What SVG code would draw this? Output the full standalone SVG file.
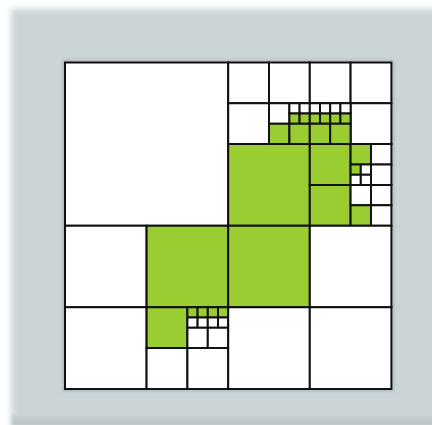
<svg xmlns="http://www.w3.org/2000/svg" width="432" height="425" viewBox="0 0 432 425">
  <style>
    .c { stroke: #111; stroke-width: 2; vector-effect: non-scaling-stroke; }
    .w { fill: #ffffff; }
    .g { fill: #9acd32; }
  </style>
  <defs>
    <filter id="soft" x="-5%" y="-5%" width="110%" height="110%">
      <feGaussianBlur stdDeviation="3"/>
    </filter>
    <filter id="shadow" x="-10%" y="-10%" width="120%" height="120%">
      <feGaussianBlur stdDeviation="1.5"/>
    </filter>
    <linearGradient id="bottomShade" x1="0" y1="0" x2="0" y2="1">
      <stop offset="0" stop-color="#cbd4d7"/>
      <stop offset="1" stop-color="#b8c1c4"/>
    </linearGradient>
  </defs>

  <!-- background panel -->
  <rect x="0" y="0" width="432" height="425" fill="#ffffff"/>
  <rect x="11" y="9" width="440" height="440" fill="#cbd4d7" filter="url(#soft)"/>
  <rect x="12" y="414" width="430" height="11" fill="url(#bottomShade)" filter="url(#shadow)"/>

  <!-- soft shadow around the grid -->
  <rect x="64" y="61.5" width="328.4" height="328.4" fill="none" stroke="#8f989b" stroke-width="3" opacity="0.5" filter="url(#shadow)"/>

  <g id="quadtree" transform="translate(65 62.5) scale(40.8)">
    <!-- top-left quadrant -->
    <g id="q-tl">
      <rect class="c w" x="0" y="0" width="4" height="4"/>
    </g>
    <!-- top-right quadrant -->
    <g id="q-tr">
      <rect class="c w" x="4" y="0" width="1" height="1"/>
      <rect class="c w" x="5" y="0" width="1" height="1"/>
      <rect class="c w" x="4" y="1" width="1" height="1"/>
      <rect class="c w" x="5" y="1" width="0.5" height="0.5"/>
      <rect class="c w" x="5.5" y="1" width="0.25" height="0.25"/>
      <rect class="c w" x="5.75" y="1" width="0.25" height="0.25"/>
      <rect class="c g" x="5.5" y="1.25" width="0.25" height="0.25"/>
      <rect class="c g" x="5.75" y="1.25" width="0.25" height="0.25"/>
      <rect class="c g" x="5" y="1.5" width="0.5" height="0.5"/>
      <rect class="c g" x="5.5" y="1.5" width="0.5" height="0.5"/>

      <rect class="c w" x="6" y="0" width="1" height="1"/>
      <rect class="c w" x="7" y="0" width="1" height="1"/>
      <rect class="c w" x="7" y="1" width="1" height="1"/>
      <rect class="c w" x="6" y="1" width="0.25" height="0.25"/>
      <rect class="c w" x="6.25" y="1" width="0.25" height="0.25"/>
      <rect class="c w" x="6.5" y="1" width="0.25" height="0.25"/>
      <rect class="c w" x="6.75" y="1" width="0.25" height="0.25"/>
      <rect class="c g" x="6" y="1.25" width="0.25" height="0.25"/>
      <rect class="c g" x="6.25" y="1.25" width="0.25" height="0.25"/>
      <rect class="c g" x="6.5" y="1.25" width="0.25" height="0.25"/>
      <rect class="c g" x="6.75" y="1.25" width="0.25" height="0.25"/>
      <rect class="c g" x="6" y="1.5" width="0.5" height="0.5"/>
      <rect class="c g" x="6.5" y="1.5" width="0.5" height="0.5"/>

      <rect class="c g" x="4" y="2" width="2" height="2"/>

      <rect class="c g" x="6" y="2" width="1" height="1"/>
      <rect class="c g" x="6" y="3" width="1" height="1"/>
      <rect class="c g" x="7" y="2" width="0.5" height="0.5"/>
      <rect class="c w" x="7.5" y="2" width="0.5" height="0.5"/>
      <rect class="c g" x="7" y="2.5" width="0.25" height="0.25"/>
      <rect class="c w" x="7.25" y="2.5" width="0.25" height="0.25"/>
      <rect class="c w" x="7" y="2.75" width="0.25" height="0.25"/>
      <rect class="c w" x="7.25" y="2.75" width="0.25" height="0.25"/>
      <rect class="c w" x="7.5" y="2.5" width="0.5" height="0.5"/>
      <rect class="c w" x="7" y="3" width="0.5" height="0.5"/>
      <rect class="c w" x="7.5" y="3" width="0.5" height="0.5"/>
      <rect class="c g" x="7" y="3.5" width="0.5" height="0.5"/>
      <rect class="c w" x="7.5" y="3.5" width="0.5" height="0.5"/>
    </g>
    <!-- bottom-left quadrant -->
    <g id="q-bl">
      <rect class="c w" x="0" y="4" width="2" height="2"/>
      <rect class="c g" x="2" y="4" width="2" height="2"/>
      <rect class="c w" x="0" y="6" width="2" height="2"/>
      <rect class="c g" x="2" y="6" width="1" height="1"/>
      <rect class="c w" x="2" y="7" width="1" height="1"/>
      <rect class="c w" x="3" y="7" width="1" height="1"/>
      <rect class="c g" x="3" y="6" width="0.25" height="0.25"/>
      <rect class="c g" x="3.25" y="6" width="0.25" height="0.25"/>
      <rect class="c g" x="3.5" y="6" width="0.25" height="0.25"/>
      <rect class="c g" x="3.75" y="6" width="0.25" height="0.25"/>
      <rect class="c w" x="3" y="6.25" width="0.25" height="0.25"/>
      <rect class="c w" x="3.25" y="6.25" width="0.25" height="0.25"/>
      <rect class="c w" x="3.5" y="6.25" width="0.25" height="0.25"/>
      <rect class="c w" x="3.75" y="6.25" width="0.25" height="0.25"/>
      <rect class="c w" x="3" y="6.5" width="0.5" height="0.5"/>
      <rect class="c w" x="3.5" y="6.5" width="0.5" height="0.5"/>
    </g>
    <!-- bottom-right quadrant -->
    <g id="q-br">
      <rect class="c g" x="4" y="4" width="2" height="2"/>
      <rect class="c w" x="6" y="4" width="2" height="2"/>
      <rect class="c w" x="4" y="6" width="2" height="2"/>
      <rect class="c w" x="6" y="6" width="2" height="2"/>
    </g>
  </g>
</svg>
